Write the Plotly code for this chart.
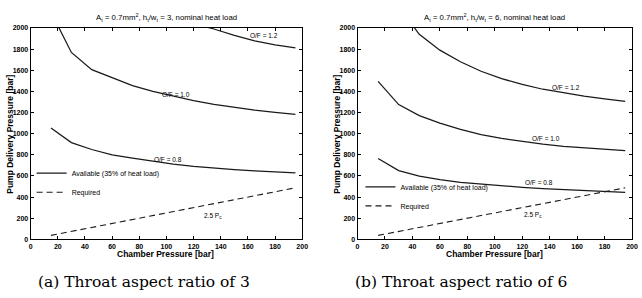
import plotly.graph_objects as go

# ---- data ----
pc = [15, 30, 45, 60, 75, 90, 105, 120, 135, 150, 165, 180, 195]

# (a) throat aspect ratio 3
a_of12 = [3000, 2600, 2420, 2300, 2210, 2140, 2090, 2040, 1990, 1930, 1878, 1840, 1812]
a_of10 = [2150, 1768, 1605, 1530, 1455, 1400, 1355, 1312, 1277, 1247, 1222, 1200, 1182]
a_of08 = [1054, 915, 850, 800, 768, 738, 712, 690, 673, 660, 648, 638, 628]

# (b) throat aspect ratio 6
b_of12 = [2700, 2200, 1940, 1790, 1680, 1590, 1520, 1465, 1420, 1385, 1355, 1328, 1305]
b_of10 = [1495, 1275, 1170, 1100, 1040, 990, 955, 925, 900, 880, 865, 852, 840]
b_of08 = [765, 650, 598, 565, 540, 522, 505, 492, 480, 470, 461, 452, 445]

required = [2.5 * p for p in pc]

x_ticks = [0, 20, 40, 60, 80, 100, 120, 140, 160, 180, 200]
y_ticks = [0, 200, 400, 600, 800, 1000, 1200, 1400, 1600, 1800, 2000]

W, H = 642, 298
LINE = "#1a1a1a"
SANS = "Liberation Sans, Arial, sans-serif"

fig = go.Figure()


def add_panel(xa, ya, leg, curves):
    first = True
    for ys in curves:
        fig.add_trace(go.Scatter(
            x=pc, y=ys, mode="lines", xaxis=xa, yaxis=ya,
            line=dict(color=LINE, width=1.25),
            name="Available (35% of heat load)", legend=leg,
            showlegend=first))
        first = False
    fig.add_trace(go.Scatter(
        x=pc, y=required, mode="lines", xaxis=xa, yaxis=ya,
        line=dict(color=LINE, width=1.1, dash="6px,4px"),
        name="Required", legend=leg, showlegend=True))


add_panel("x", "y", "legend", [a_of12, a_of10, a_of08])
add_panel("x2", "y2", "legend2", [b_of12, b_of10, b_of08])

ydom = [1 - 241 / H, 1 - 24.5 / H]
xdomA = [29 / W, 304 / W]
xdomB = [360 / W, 638 / W]

axis_common = dict(
    showgrid=False, zeroline=False, showline=True, linecolor="black",
    linewidth=1, mirror="ticks", ticks="inside", ticklen=3,
    tickcolor="black", tickwidth=1,
    tickfont=dict(family=SANS, size=7, color="black", weight="bold"),
)

legend_common = dict(xanchor="left", yanchor="middle", bgcolor="rgba(0,0,0,0)",
                     font=dict(family=SANS, size=7, color="black"),
                     tracegroupgap=0, itemwidth=30)

fig.update_layout(
    width=W, height=H, margin=dict(l=0, r=0, t=0, b=0),
    paper_bgcolor="white", plot_bgcolor="white",
    xaxis=dict(domain=xdomA, anchor="y", range=[0, 200], tickvals=x_ticks, **axis_common),
    yaxis=dict(domain=ydom, anchor="x", range=[0, 2000], tickvals=y_ticks, **axis_common),
    xaxis2=dict(domain=xdomB, anchor="y2", range=[0, 200], tickvals=x_ticks, **axis_common),
    yaxis2=dict(domain=ydom, anchor="x2", range=[0, 2000], tickvals=y_ticks, **axis_common),
    legend=dict(x=30 / W, y=1 - 183 / H, **legend_common),
    legend2=dict(x=363 / W, y=1 - 197 / H, **legend_common),
    showlegend=True,
)

ann = []
lab_font = dict(family=SANS, size=6.5, color="black")
C = dict(showarrow=False, xanchor="center", yanchor="middle")
# curve labels, panel (a)
ann += [
    dict(x=172, y=1925, xref="x", yref="y", text="O/F = 1.2", font=lab_font, **C),
    dict(x=107, y=1372, xref="x", yref="y", text="O/F = 1.0", font=lab_font, **C),
    dict(x=101, y=757, xref="x", yref="y", text="O/F = 0.8", font=lab_font, **C),
    dict(x=134, y=218, xref="x", yref="y", text="2.5 P<sub>c</sub>", font=lab_font, **C),
]
# panel (b)
ann += [
    dict(x=152, y=1435, xref="x2", yref="y2", text="O/F = 1.2", font=lab_font, **C),
    dict(x=137, y=955, xref="x2", yref="y2", text="O/F = 1.0", font=lab_font, **C),
    dict(x=132, y=537, xref="x2", yref="y2", text="O/F = 0.8", font=lab_font, **C),
    dict(x=128, y=228, xref="x2", yref="y2", text="2.5 P<sub>c</sub>", font=lab_font, **C),
]
# panel titles
tfont = dict(family=SANS, size=7.8, color="black")
ann += [
    dict(x=167 / W, y=1 - 14 / H, xref="paper", yref="paper",
         text="A<sub>t</sub> = 0.7mm<sup>2</sup>, h<sub>t</sub>/w<sub>t</sub> = 3, nominal heat load",
         font=tfont, **C),
    dict(x=499 / W, y=1 - 14 / H, xref="paper", yref="paper",
         text="A<sub>t</sub> = 0.7mm<sup>2</sup>, h<sub>t</sub>/w<sub>t</sub> = 6, nominal heat load",
         font=tfont, **C),
]
# axis titles
afont = dict(family=SANS, size=8.5, color="black", weight="bold")
for cx, yx in [(166, 8), (499, 339)]:
    ann.append(dict(x=cx / W, y=1 - 256.5 / H, xref="paper", yref="paper",
                    text="Chamber Pressure [bar]", font=afont, **C))
    ann.append(dict(x=yx / W, y=1 - 133 / H, xref="paper", yref="paper",
                    text="Pump Delivery Pressure [bar]",
                    textangle=-90, font=afont, **C))
# captions
cfont = dict(family="DejaVu Serif, Liberation Serif, serif", size=15.5, color="black")
ann += [
    dict(x=144 / W, y=1 - 285 / H, xref="paper", yref="paper",
         text="(a) Throat aspect ratio of 3", font=cfont, **C),
    dict(x=465 / W, y=1 - 285 / H, xref="paper", yref="paper",
         text="(b) Throat aspect ratio of 6", font=cfont, **C),
]
fig.update_layout(annotations=ann)

fig.write_html("out.html")
